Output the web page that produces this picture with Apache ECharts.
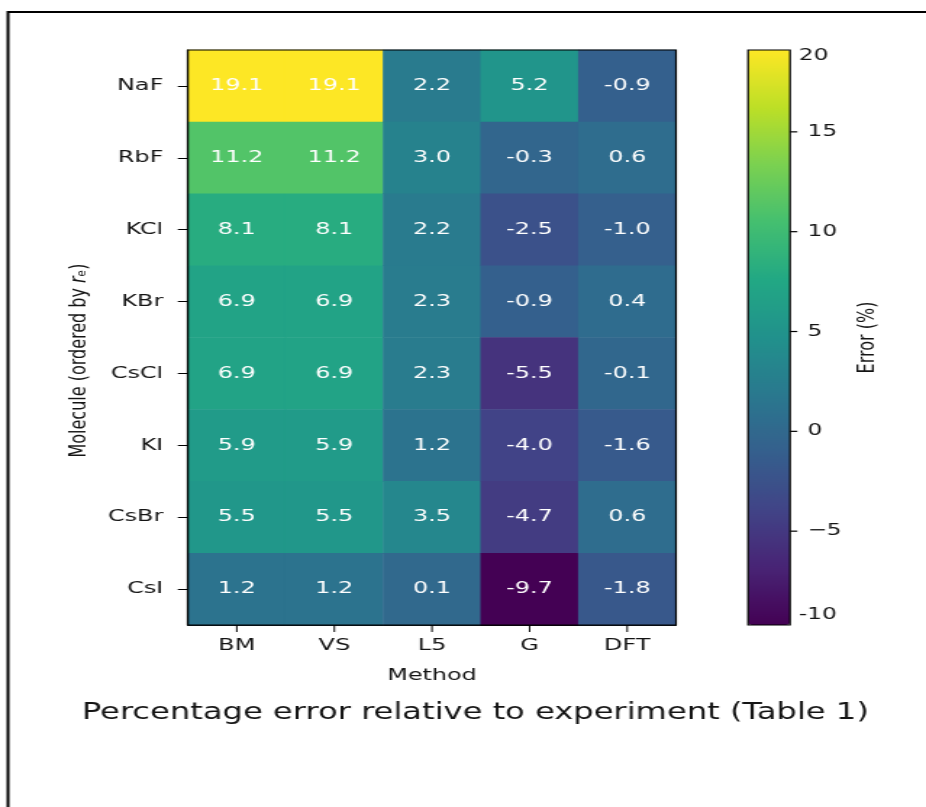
<!DOCTYPE html>
<html>
<head>
<meta charset="utf-8">
<script src="https://cdn.jsdelivr.net/npm/echarts@6.0.0/dist/echarts.min.js"></script>
<style>
  html, body { margin: 0; padding: 0; background: #fff; overflow: hidden; }
  /* the reference picture is stretched sideways, so draw narrow and widen */
  #main { width: 639px; height: 807px; transform: scaleX(1.4491); transform-origin: 0 0; }
</style>
</head>
<body>
<div id="main"></div>
<script>
var methods = ['BM', 'VS', 'L5', 'G', 'DFT'];
var molecules = ['NaF', 'RbF', 'KCl', 'KBr', 'CsCl', 'KI', 'CsBr', 'CsI'];
var errBM  = [19.1, 11.2, 8.1, 6.9, 6.9, 5.9, 5.5, 1.2];
var errVS  = [19.1, 11.2, 8.1, 6.9, 6.9, 5.9, 5.5, 1.2];
var errL5  = [2.2, 3.0, 2.2, 2.3, 2.3, 1.2, 3.5, 0.1];
var errG   = [5.2, -0.3, -2.5, -0.9, -5.5, -4.0, -4.7, -9.7];
var errDFT = [-0.9, 0.6, -1.0, 0.4, -0.1, -1.6, 0.6, -1.8];
var cbarTicks = [-5, 0, 5, 10, 15];
var cbarEndTicks = [-9.2, 18.8];
var cbarEndLabels = ['-10', '20'];

var viridis = ['#440154', '#482475', '#414487', '#355f8d', '#2a788e', '#21918c',
               '#22a884', '#44bf70', '#7ad151', '#bddf26', '#fde725'];

var columns = [errBM, errVS, errL5, errG, errDFT];
var cells = [];
columns.forEach(function (col, i) {
    col.forEach(function (v, j) {
        cells.push([i, j, v]);
    });
});
var vMin = Math.min.apply(null, [].concat.apply([], columns));
var vMax = Math.max.apply(null, [].concat.apply([], columns));

var font = 'DejaVu Sans';
var textCol = '#141414';

// plot boxes (chart px, before the sideways stretch)
var hm = { left: 129.7, top: 50, width: 336.8, height: 575 };
var cb = { left: 516.2, top: 50, width: 29, height: 575 };

var chart = echarts.init(document.getElementById('main'));
var option = {
    animation: false,
    title: {
        text: 'Percentage error relative to experiment (Table 1)',
        left: 56.5,
        top: 702,
        padding: 0,
        textStyle: { fontFamily: font, fontSize: 22.2, fontWeight: 'normal', color: textCol }
    },
    grid: [
        { left: hm.left, top: hm.top, width: hm.width, height: hm.height },
        { left: cb.left, top: cb.top, width: cb.width, height: cb.height }
    ],
    xAxis: [{
        type: 'category',
        data: methods,
        gridIndex: 0,
        position: 'bottom',
        name: 'Method',
        nameLocation: 'middle',
        nameGap: 42,
        nameTextStyle: { fontFamily: font, fontSize: 16.5, color: textCol },
        axisLine: { show: true, onZero: false, lineStyle: { color: '#000', width: 1.2 } },
        axisTick: { show: false },
        axisLabel: { fontFamily: font, fontSize: 16.5, color: textCol, margin: 12 },
        splitLine: { show: false }
    }, {
        type: 'value', gridIndex: 1, min: 0, max: 1, show: false
    }],
    yAxis: [{
        type: 'category',
        data: molecules,
        inverse: true,
        gridIndex: 0,
        name: 'Molecule (ordered by {i|r}ₑ)',
        nameLocation: 'middle',
        nameGap: 67,
        nameRotate: 90,
        nameTextStyle: {
            fontFamily: font, fontSize: 16, color: textCol,
            padding: [0, 46, 0, 0],
            rich: { i: { fontFamily: font, fontSize: 16, fontStyle: 'italic', color: textCol } }
        },
        axisLine: { show: true, lineStyle: { color: '#000', width: 1.2 } },
        axisTick: { show: true, alignWithLabel: true, length: 7, lineStyle: { color: '#000', width: 1 } },
        axisLabel: { fontFamily: font, fontSize: 16.5, color: textCol, margin: 17 },
        splitLine: { show: false }
    }, {
        type: 'value',
        gridIndex: 1,
        position: 'right',
        min: vMin,
        max: vMax,
        name: 'Error (%)',
        nameLocation: 'middle',
        nameGap: 46,
        nameRotate: 90,
        nameTextStyle: { fontFamily: font, fontSize: 16, color: textCol },
        axisLine: { show: false },
        splitLine: { show: false },
        axisTick: { show: false },
        axisLabel: {
            customValues: cbarTicks,
            fontFamily: font, fontSize: 16, color: textCol, margin: 12,
            formatter: function (v) { return v < 0 ? '\u2212' + Math.abs(v) : String(v); }
        }
    }, {
        type: 'value',
        gridIndex: 1,
        position: 'right',
        min: vMin,
        max: vMax,
        axisLine: { show: false },
        splitLine: { show: false },
        axisTick: { show: false },
        axisLabel: {
            customValues: cbarEndTicks,
            fontFamily: font, fontSize: 16, color: textCol, margin: 6,
            formatter: function (v) { return v > 0 ? cbarEndLabels[1] : cbarEndLabels[0]; }
        }
    }],
    visualMap: {
        type: 'continuous',
        seriesIndex: 0,
        min: vMin,
        max: vMax,
        calculable: false,
        hoverLink: false,
        orient: 'vertical',
        left: cb.left,
        top: cb.top,
        padding: 0,
        itemWidth: cb.width,
        itemHeight: cb.height,
        text: null,
        inRange: { color: viridis }
    },
    graphic: [
        {
            type: 'rect', z: 100, silent: true,
            shape: { x: 5.5, y: 12, width: 700, height: 900 },
            style: { fill: 'none', stroke: '#000', lineWidth: 2 }
        },
        {
            type: 'rect', z: 100, silent: true,
            shape: { x: hm.left, y: hm.top, width: hm.width, height: hm.height },
            style: { fill: 'none', stroke: '#000', lineWidth: 1.2 }
        },
        {
            type: 'rect', z: 100, silent: true,
            shape: { x: cb.left, y: cb.top, width: cb.width, height: cb.height },
            style: { fill: 'none', stroke: '#000', lineWidth: 1.2 }
        }
    ],
    series: [{
        type: 'heatmap',
        xAxisIndex: 0,
        yAxisIndex: 0,
        data: cells,
        label: {
            show: true,
            fontFamily: font,
            fontSize: 16.5,
            color: '#fff',
            formatter: function (p) { return p.value[2].toFixed(1); }
        },
        itemStyle: { borderWidth: 0 }
    }, {
        // x tick marks under the bottom row, placed through the category axes
        type: 'custom',
        xAxisIndex: 0,
        yAxisIndex: 0,
        silent: true,
        z: 5,
        data: methods.map(function (m, i) { return [i, molecules.length - 1]; }),
        renderItem: function (params, api) {
            var p = api.coord([api.value(0), api.value(1)]);
            var h = api.size([0, 1])[1];
            var y0 = p[1] + h / 2;
            return {
                type: 'line',
                shape: { x1: p[0], y1: y0, x2: p[0], y2: y0 + 7 },
                style: { stroke: '#000', lineWidth: 1 }
            };
        }
    }, {
        // colorbar tick marks, placed through the colorbar's value axis
        type: 'custom',
        xAxisIndex: 1,
        yAxisIndex: 1,
        silent: true,
        data: cbarTicks.map(function (v) { return [1, v]; }),
        renderItem: function (params, api) {
            var p = api.coord([api.value(0), api.value(1)]);
            return {
                type: 'line',
                shape: { x1: p[0], y1: p[1], x2: p[0] + 5, y2: p[1] },
                style: { stroke: '#000', lineWidth: 1.2 }
            };
        }
    }]
};
chart.setOption(option);
</script>
</body>
</html>
